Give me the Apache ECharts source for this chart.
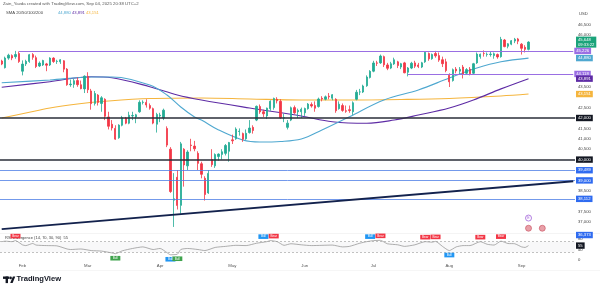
<!DOCTYPE html>
<html><head><meta charset="utf-8">
<script src="https://cdn.jsdelivr.net/npm/echarts@6/dist/echarts.min.js"></script>
<style>html,body{margin:0;padding:0;background:#fff}#c{width:600px;height:290px}</style>
</head><body><div id="c"></div>
<script>
// ---------- DATA ----------
const dates = [
'01-24','01-27','01-28','01-29','01-30','01-31',
'02-03','02-04','02-05','02-06','02-07','02-10','02-11','02-12','02-13','02-14','02-18','02-19','02-20','02-21','02-24','02-25','02-26','02-27','02-28',
'03-03','03-04','03-05','03-06','03-07','03-10','03-11','03-12','03-13','03-14','03-17','03-18','03-19','03-20','03-21','03-24','03-25','03-26','03-27','03-28','03-31',
'04-01','04-02','04-03','04-04','04-07','04-08','04-09','04-10','04-11','04-14','04-15','04-16','04-17','04-21','04-22','04-23','04-24','04-25','04-28','04-29','04-30',
'05-01','05-02','05-05','05-06','05-07','05-08','05-09','05-12','05-13','05-14','05-15','05-16','05-19','05-20','05-21','05-22','05-23','05-27','05-28','05-29','05-30',
'06-02','06-03','06-04','06-05','06-06','06-09','06-10','06-11','06-12','06-13','06-16','06-17','06-18','06-20','06-23','06-24','06-25','06-26','06-27','06-30',
'07-01','07-02','07-03','07-07','07-08','07-09','07-10','07-11','07-14','07-15','07-16','07-17','07-18','07-21','07-22','07-23','07-24','07-25','07-28','07-29','07-30','07-31',
'08-01','08-04','08-05','08-06','08-07','08-08','08-11','08-12','08-13','08-14','08-15','08-18','08-19','08-20','08-21','08-22','08-25','08-26','08-27','08-28','08-29',
'09-02','09-03','09-04','09-05','09-08','09-09','09-10','09-11','09-12','09-15','09-16','09-17','09-18','09-19','09-22','09-23'
];
const monthNames = ['Jan','Feb','Mar','Apr','May','Jun','Jul','Aug','Sep','Oct','Nov','Dec'];

// [open, close, low, high]
const candles = [
[44740,44594,44540,44800],[44420,44883,44380,44950],[44880,45020,44800,45090],[45000,44884,44780,45060],[44950,45052,44850,45226],[45100,44715,44650,45200],
[44250,44591,44050,44770],[44600,44726,44500,44800],[44720,45043,44650,45080],[45050,44917,44800,45120],[44900,44473,44400,45000],[44500,44640,44450,44720],
[44550,44763,44500,44800],[44600,44538,44250,44650],[44550,44881,44500,44920],[44880,44716,44650,44920],[44720,44726,44600,44800],[44700,44798,44600,44830],
[44750,44347,44200,44780],[44350,43598,43550,44400],[43600,43631,43500,43850],[43620,43791,43450,43880],[43800,43603,43500,43950],[43600,43409,43380,43800],
[43400,44011,43200,44050],
[44000,43361,43200,44200],[43300,42690,42400,43400],[42700,43176,42600,43300],[43100,42749,42600,43150],[42700,42972,42300,43050],[42900,42082,41900,42950],
[42050,41603,41450,42300],[41700,41520,41400,41900],[41500,40984,40950,41650],[41050,41658,41000,41700],[41650,42012,41600,42100],[42000,41752,41700,42050],
[41750,42135,41700,42300],[42100,42123,41900,42300],[42050,42155,41750,42200],[42300,42753,42250,42850],[42750,42757,42650,42850],[42750,42625,42500,42900],
[42600,42470,42400,42700],[42450,41754,41700,42500],[41700,42172,41300,42250],
[42100,42139,41800,42250],[42000,42376,41900,42450],[41500,40696,40600,41600],[40500,38465,38400,40600],[38050,38116,36762,39350],[39150,37796,37600,39500],
[37800,40758,37400,40850],[40500,39744,38700,40550],[39700,40363,39500,40450],[40700,40675,40400,41000],[40650,40519,40400,40900],[40300,39819,39500,40400],
[39800,39292,39100,39900],[39100,38320,38030,39200],[38400,39337,38350,39500],[40000,39757,39650,40500],[39700,40243,39600,40300],[40150,40264,39950,40300],
[40250,40378,40000,40500],[40300,40677,40200,40750],[40400,40819,39900,40850],
[40950,40903,40750,41200],[41000,41467,40950,41550],[41350,41369,41150,41500],[41250,40979,40850,41300],[41000,41264,40950,41450],[41300,41518,41250,41900],
[41550,41399,41250,41650],[41900,42560,41850,42600],[42550,42290,42200,42650],[42300,42201,42050,42400],[42100,42473,41950,42500],[42450,42805,42350,42850],
[42500,42942,42400,42980],[42900,42827,42700,43000],[42800,42010,41950,42900],[42000,42009,41800,42200],[41550,41753,41450,41900],[41900,42493,41850,42550],
[42500,42248,42200,42600],[42300,42366,42000,42450],[42300,42420,42000,42500],
[42250,42455,42100,42500],[42450,42670,42400,42720],[42650,42578,42500,42750],[42600,42470,42300,42800],[42550,42913,42500,42980],[42950,42912,42800,43050],
[42900,43017,42850,43080],[43050,43016,42900,43200],[42950,43118,42850,43150],[42900,42348,42250,42950],[42450,42665,42400,42800],[42600,42365,42300,42700],
[42350,42322,42250,42600],[42400,42357,42250,42600],[42300,42732,42150,42800],[42900,43239,42850,43350],[43250,43256,43100,43400],[43250,43537,43200,43600],
[43550,43969,43500,44050],[43950,44245,43900,44300],
[44250,44645,44200,44750],[44650,44634,44500,44750],[44650,44979,44600,45050],[44950,44556,44450,45000],[44550,44391,44300,44650],[44400,44608,44350,44700],
[44600,44801,44550,44900],[44700,44521,44400,44750],[44450,44610,44350,44650],[44650,44173,44150,44700],[44200,44404,44000,44450],[44400,44634,44350,44700],
[44650,44492,44400,44750],[44550,44473,44400,44650],[44450,44652,44400,44700],[44700,45160,44650,45200],[45100,44844,44750,45150],[44850,45052,44800,45100],
[45100,44988,44900,45226],[45000,44783,44700,45150],[44800,44611,44450,44950],[44700,44281,44200,44850],
[44050,43739,43490,44150],[43800,44324,43750,44380],[44350,44262,44150,44450],[44250,44343,44100,44450],[44450,44119,43900,44550],[44150,44326,44100,44400],
[44350,44125,44050,44450],[44150,44609,44100,44650],[44650,45072,44600,45150],[44950,45062,44850,45100],[45100,45096,44950,45250],[45050,45062,44950,45150],
[45050,45072,44950,45200],[45000,45088,44850,45150],[45050,44936,44850,45100],[44950,45782,44900,45900],[45750,45432,45400,45800],[45450,45568,45350,45600],
[45550,45715,45500,45750],[45700,45787,45600,45850],[45800,45695,45550,45850],
[45550,45350,45050,45600],[45400,45300,45150,45500],[45300,45648,45250,45690]
];

const sma50 = [['01-24',43697],['02-13',43827],['03-04',43971],['03-12',43971],['03-27',43587],['04-03',43106],['04-09',42529],['04-15',42048],['04-17',41904],['04-25',41423],['05-06',40942],['05-13',40846],['05-21',40870],['05-30',40990],['06-09',41423],['06-20',42062],['07-07',42865],['07-21',43346],['08-01',43923],['08-13',44404],['08-22',44707],['09-04',44880]];
const sma100 = [['01-24',43476],['02-13',43745],['03-04',43986],['03-12',43938],['03-27',43505],['04-08',43106],['04-17',42865],['05-08',42481],['05-30',42096],['06-12',41822],['06-27',41745],['07-10',41904],['07-21',42144],['08-01',42481],['08-12',42865],['08-22',43400],['09-04',43891]];
const sma200 = [['01-24',42000],['02-04',42240],['02-13',42481],['02-26',42673],['03-07',42793],['03-27',42938],['04-17',42962],['05-08',42913],['05-30',42865],['06-20',42865],['07-14',42889],['08-01',42938],['08-22',43058],['09-04',43151]];

const rsi = [['01-24',70],['01-27',72],['01-29',70],['01-30',74],['02-03',58],['02-04',55],['02-06',63],['02-07',57],['02-12',55],['02-18',54],['02-21',42],['02-24',40],['02-27',42],['03-04',36],['03-07',34],['03-12',27],['03-13',24],['03-17',35],['03-20',44],['03-25',50],['03-28',40],['04-01',44],['04-03',28],['04-04',20],['04-08',22],['04-09',40],['04-11',44],['04-16',40],['04-21',36],['04-24',48],['04-29',52],['05-02',56],['05-07',55],['05-12',64],['05-15',70],['05-16',74],['05-20',70],['05-22',56],['05-27',62],['05-30',58],['06-04',55],['06-09',56],['06-12',57],['06-17',50],['06-20',52],['06-25',64],['06-27',70],['07-01',74],['07-03',75],['07-08',62],['07-11',58],['07-15',52],['07-18',58],['07-23',70],['07-25',68],['07-28',71],['07-30',52],['08-01',36],['08-05',50],['08-07',55],['08-11',55],['08-14',70],['08-18',60],['08-20',57],['08-22',72],['08-26',63],['08-28',62],['09-02',50],['09-03',48],['09-04',55]];
const rsiLevels = [70, 30];
const rsiTicks = [80, 40, 0];
const divergences = [['01-30',74,'bear'],['03-13',24,'bull'],['04-04',20,'hbull'],['04-08',22,'bull'],['05-14',72,'hbear'],['05-19',74,'bear'],['06-30',72,'hbear'],['07-03',75,'bear'],['07-23',70,'bear'],['07-28',71,'bear'],['08-01',36,'hbull'],['08-14',70,'bear'],['08-22',72,'bear']];
const divText = {bear:'Bear', bull:'Bull', hbear:'Bull', hbull:'Bull'};

const priceTicksShown = [46500, 46000, 43500, 42500, 41500, 41000, 40500, 38500, 37500, 37000];
const lastPrice = 45648;
const countdown = '09:33:22';
const purpleLevels = [45226, 44118];
const purpleStarts = ['01-31', '07-16'];
const blackLevels = [42000, 40000];
const blueLevels = [39489, 39000, 38112];
const lowLabel = 36373;
const trendStart = 36660, trendEnd = 38960;
const events = [['09-04', 37190, 'E'], ['09-04', 36700, ''], ['09-10', 36700, '']];

// ---------- CHART ----------
const F = '"Liberation Sans", Arial, sans-serif';
const fmt = v => v.toLocaleString('en-US');
const lastCat = dates[dates.length - 1];
const monthStart = dates.map((d, i) => i > 0 && d.slice(0, 2) !== dates[i - 1].slice(0, 2));
const C = {up:'#22ab94', down:'#f23645', purple:'#9a6fe3', purpleDark:'#5e2ca5', cyan:'#4fa8d0', yellow:'#f5b53d', black:'#2a2e39', blue:'#4f7fe6', navy:'#13224d'};

function box(bg, text, color) {
  return {show:true, position:'end', distance:1, formatter:text, backgroundColor:bg, color:color || '#fff',
          fontSize:4.2, fontFamily:F, padding:[1.2,2,0.6,2], lineHeight:4.6};
}
const hidden = {color:'rgba(0,0,0,0)', width:0};

const priceMarks = [];
purpleLevels.forEach((v, i) => priceMarks.push([
  {coord:[purpleStarts[i], v], lineStyle:{color:C.purple, width:1, type:'solid'}, label:box(C.purple, fmt(v))},
  {coord:[lastCat, v]}
]));
blackLevels.forEach(v => priceMarks.push({yAxis:v, lineStyle:{color:C.black, width:1.6, type:'solid'}, label:box('#131722', fmt(v))}));
blueLevels.forEach(v => priceMarks.push({yAxis:v, lineStyle:{color:C.blue, width:0.8, type:'solid'}, label:box('#2f6bf0', fmt(v))}));
priceMarks.push([
  {coord:[dates[0], trendStart], lineStyle:{color:C.navy, width:1.8, type:'solid'}, label:{show:false}},
  {coord:[lastCat, trendEnd]}
]);
priceMarks.push({yAxis:lowLabel, lineStyle:hidden, label:box('#2f6bf0', fmt(lowLabel))});
priceMarks.push({yAxis:sma50[sma50.length-1][1], lineStyle:hidden, label:box(C.cyan, fmt(sma50[sma50.length-1][1]))});
priceMarks.push({yAxis:sma100[sma100.length-1][1], lineStyle:hidden, label:box(C.purpleDark, fmt(sma100[sma100.length-1][1]))});
priceMarks.push({yAxis:sma200[sma200.length-1][1], lineStyle:hidden, label:box(C.yellow, fmt(sma200[sma200.length-1][1]))});
priceMarks.push({yAxis:lastPrice, lineStyle:hidden, label:box('#1aa37a', fmt(lastPrice) + '\n' + countdown)});

const smaSeries = (data, color) => ({type:'line', xAxisIndex:0, yAxisIndex:0, data, symbol:'none', smooth:0.35,
  lineStyle:{color, width:1.1}, z:3, silent:true});

const option = {
  animation:false,
  backgroundColor:'#fff',
  grid:[
    {left:0, right:25, top:3.6, height:239.2},
    {left:0, right:25, top:233.8, height:26.2}
  ],
  xAxis:[
    {type:'category', data:dates, gridIndex:0, show:false, boundaryGap:true},
    {type:'category', data:dates, gridIndex:1, boundaryGap:true,
     axisLine:{show:false}, axisTick:{show:false}, splitLine:{show:false},
     axisLabel:{interval:(i) => monthStart[i], formatter:(v) => monthNames[+v.slice(0,2) - 1],
                fontSize:4.3, color:'#555', margin:4, fontFamily:F, hideOverlap:false}}
  ],
  yAxis:[
    {type:'value', gridIndex:0, position:'right', min:36000, max:47500, interval:500, scale:true,
     axisLine:{show:false}, axisTick:{show:false}, splitLine:{show:false},
     axisLabel:{fontSize:4.2, color:'#444', margin:3, fontFamily:F,
                formatter:(v) => priceTicksShown.includes(v) ? fmt(v) : ''}},
    {type:'value', gridIndex:1, position:'right', min:0, max:100, interval:40,
     axisLine:{show:false}, axisTick:{show:false}, splitLine:{show:false},
     axisLabel:{fontSize:4.2, color:'#444', margin:3, fontFamily:F, showMaxLabel:false,
                formatter:(v) => rsiTicks.includes(v) ? String(v) : ''}}
  ],
  series:[
    smaSeries(sma200, C.yellow),
    smaSeries(sma100, C.purpleDark),
    smaSeries(sma50, C.cyan),
    {type:'candlestick', xAxisIndex:0, yAxisIndex:0, data:candles, barWidth:1.8, z:4,
     itemStyle:{color:C.up, color0:C.down, borderColor:C.up, borderColor0:C.down, borderWidth:0.8},
     markLine:{symbol:['none','none'], silent:true, animation:false, precision:0, data:priceMarks},
     markPoint:{silent:true, animation:false, data:events.map(e => ({
        coord:[e[0], e[1]], symbol:'circle', symbolSize:6,
        itemStyle: e[2] ? {color:'#fff', borderColor:'#a05fd8', borderWidth:0.8} : {color:'#e8a0a8', borderColor:'#c84a5a', borderWidth:0.6},
        label:{show:!!e[2], formatter:e[2], position:'inside', fontSize:3.5, color:'#a05fd8', fontFamily:F}}))}
    },
    {type:'line', xAxisIndex:1, yAxisIndex:1, data:rsi, symbol:'none', smooth:0.2,
     lineStyle:{color:'#8c8c8c', width:0.7}, silent:true,
     markArea:{silent:true, itemStyle:{color:'rgba(120,120,140,0.05)'}, data:[[{yAxis:rsiLevels[1]},{yAxis:rsiLevels[0]}]]},
     markLine:{symbol:['none','none'], silent:true, animation:false, data:[
        ...rsiLevels.map(v => ({yAxis:v, lineStyle:{color:'#9a9a9a', width:0.6, type:[2,2]}, label:{show:false}})),
        {yAxis:rsi[rsi.length-1][1], lineStyle:hidden, label:box('#131722', String(rsi[rsi.length-1][1]))}
     ]},
     markPoint:{silent:true, animation:false, data:divergences.map(d => {
        const above = d[2] === 'bear' || d[2] === 'hbear';
        const col = d[2] === 'bear' ? '#f23645' : d[2] === 'bull' ? '#3fa34d' : '#2196f3';
        return {coord:[d[0], d[1]], symbol:'rect', symbolSize:[10,4.6], symbolOffset:[0, above ? -4.5 : 4.5],
                itemStyle:{color:col},
                label:{show:true, position:'inside', formatter:divText[d[2]], fontSize:3, color:'#fff', fontFamily:F}};
     })}
    }
  ],
  graphic:[
    {type:'text', left:3, top:2, style:{text:'Zain_Yavda created with TradingView.com, Sep 04, 2025 20:38 UTC+2', fontSize:4.3, fill:'#555', fontFamily:F}},
    {type:'text', left:6, top:11, style:{text:'SMA 20/50/100/200', fontSize:4.2, fill:'#444', fontFamily:F}},
    {type:'text', left:58, top:11, style:{text:fmt(sma50[sma50.length-1][1]), fontSize:4.2, fill:C.cyan, fontFamily:F}},
    {type:'text', left:72, top:11, style:{text:fmt(sma100[sma100.length-1][1]), fontSize:4.2, fill:C.purpleDark, fontFamily:F}},
    {type:'text', left:86, top:11, style:{text:fmt(sma200[sma200.length-1][1]), fontSize:4.2, fill:C.yellow, fontFamily:F}},
    {type:'text', left:579, top:12, style:{text:'USD', fontSize:4.2, fill:'#444', fontFamily:F}},
    {type:'text', left:5, top:236, style:{text:'RSI Divergence (14, 70, 30, 90)  55', fontSize:4, fill:'#444', fontFamily:F}},
    {type:'line', shape:{x1:0, y1:233.5, x2:600, y2:233.5}, style:{stroke:'#ececec', lineWidth:0.6}},
    {type:'line', shape:{x1:0, y1:270.5, x2:600, y2:270.5}, style:{stroke:'#f0f0f0', lineWidth:0.6}},
    {type:'rect', shape:{x:3, y:276.5, width:6.2, height:2.4}, style:{fill:'#131722'}},
    {type:'rect', shape:{x:5.6, y:276.5, width:2.4, height:6.6}, style:{fill:'#131722'}},
    {type:'circle', shape:{cx:10.6, cy:277.9, r:1.3}, style:{fill:'#131722'}},
    {type:'polygon', shape:{points:[[10.2,283.1],[12.9,276.5],[15.3,276.5],[12.6,283.1]]}, style:{fill:'#131722'}},
    {type:'text', left:16.5, top:275, style:{text:'TradingView', fontSize:7.6, fontWeight:'bold', fill:'#131722', fontFamily:F}}
  ]
};
const chart = echarts.init(document.getElementById('c'));
chart.setOption(option);
</script>
</body></html>
